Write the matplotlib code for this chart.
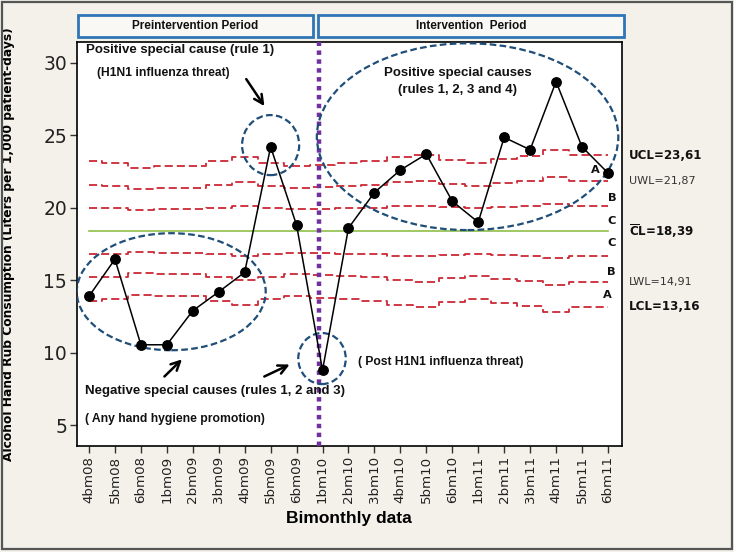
import matplotlib
matplotlib.use('Agg')
import matplotlib.pyplot as plt
import matplotlib.transforms as mtransforms
from matplotlib.patches import Ellipse, Rectangle
import numpy as np

# ---------------- data ----------------
periods = ['4bm08', '5bm08', '6bm08', '1bm09', '2bm09', '3bm09', '4bm09', '5bm09',
           '6bm09', '1bm10', '2bm10', '3bm10', '4bm10', '5bm10', '6bm10', '1bm11',
           '2bm11', '3bm11', '4bm11', '5bm11', '6bm11']
consumption = [13.9, 16.45, 10.55, 10.55, 12.9, 14.2, 15.55, 24.2, 18.8, 8.8,
               18.6, 21.05, 22.6, 23.7, 20.45, 19.0, 24.85, 24.0, 28.7, 24.2, 22.4]
center_line = 18.39
sigma = [1.60, 1.57, 1.46, 1.49, 1.49, 1.60, 1.70, 1.57, 1.49, 1.53, 1.56,
         1.60, 1.70, 1.74, 1.63, 1.56, 1.66, 1.72, 1.87, 1.74, 1.74]
sigma_multipliers = [3, 2, 1, -1, -2, -3]
limit_names = ['UCL=23,61', 'UWL=21,87', '$\\overline{\\mathbf{C}}$L=18,39', 'LWL=14,91', 'LCL=13,16']
limit_values = [23.61, 21.87, 18.39, 14.91, 13.16]
limit_bold = [True, False, True, False, True]
zone_letters = ['A', 'B', 'C', 'C', 'B', 'A']
yticks = [5, 10, 15, 20, 25, 30]

W, H = 734, 552
fig = plt.figure(figsize=(W / 100, H / 100), dpi=100)
fig.patch.set_facecolor('#f3f1ea')


def fx(px):
    return px / W


def fy(py):
    return 1 - py / H


ax_l, ax_r, ax_t, ax_b = 76.7, 621.7, 41.7, 446
ax = fig.add_axes([fx(ax_l), fy(ax_b), fx(ax_r - ax_l), (ax_b - ax_t) / H])
ax.set_facecolor('white')

x = np.arange(len(periods))
cons = np.array(consumption)
sig = np.array(sigma)

# control limits (stepped)
for k in sigma_multipliers:
    ax.step(x, center_line + k * sig, where='mid', color='#cc2936', lw=1.3,
            linestyle=(0, (4.5, 2.2)), zorder=2)
ax.plot([x[0], x[-1]], [center_line, center_line], color='#8fbf4a', lw=1.2, zorder=2)

# intervention divider
ax.axvline(8.88, color='#7030a0', lw=3.2, linestyle=(0, (1, 1)), zorder=3)

# data
ax.plot(x, cons, color='black', lw=1.1, marker='o', markersize=6.8,
        markerfacecolor='black', markeredgecolor='black', zorder=5)

# ellipses
ell_kw = dict(fill=False, edgecolor='#1f4e79', lw=1.6, linestyle=(0, (3, 1.5)), zorder=4)
ax.add_patch(Ellipse((3.17, 14.21), 7.28, 8.07, **ell_kw))
ax.add_patch(Ellipse((7.0, 24.32), 2.2, 4.14, **ell_kw))
ax.add_patch(Ellipse((8.98, 9.6), 1.83, 3.52, **ell_kw))
ax.add_patch(Ellipse((14.59, 24.9), 11.62, 12.88, **ell_kw))

# arrows
arw = dict(arrowstyle='->', lw=1.8, color='black', mutation_scale=16)
ax.annotate('', xy=(6.82, 26.85), xytext=(6.0, 29.03), arrowprops=arw, zorder=6)
ax.annotate('', xy=(3.66, 9.68), xytext=(2.83, 8.23), arrowprops=arw, zorder=6)
ax.annotate('', xy=(7.83, 9.27), xytext=(6.66, 8.28), arrowprops=arw, zorder=6)

# annotation texts
tk = dict(fontfamily=['Liberation Sans', 'DejaVu Sans'], fontweight='bold', color='#111111', zorder=7)
ax.text(-0.12, 30.88, 'Positive special cause (rule 1)', fontsize=9.5, ha='left', va='center', **tk)
ax.text(0.29, 29.31, '(H1N1 influenza threat)', fontsize=8.7, ha='left', va='center', **tk)
ax.text(14.21, 29.31, 'Positive special causes', fontsize=9.5, ha='center', va='center', **tk)
ax.text(14.21, 28.15, '(rules 1, 2, 3 and 4)', fontsize=9.5, ha='center', va='center', **tk)
ax.text(-0.15, 7.36, 'Negative special causes (rules 1, 2 and 3)', fontsize=9.5, ha='left', va='center', **tk)
ax.text(-0.15, 5.43, '( Any hand hygiene promotion)', fontsize=8.7, ha='left', va='center', **tk)
ax.text(10.35, 9.36, '( Post H1N1 influenza threat)', fontsize=8.7, ha='left', va='center', **tk)

# zone letters
zone_pos = [(19.5, 22.6), (20.15, 20.67), (20.15, 19.08), (20.15, 17.57), (20.12, 15.57), (19.96, 13.98)]
for (zx, zy), letter in zip(zone_pos, zone_letters):
    ax.text(zx, zy, letter, fontsize=8.2, fontweight='bold', ha='center', va='center',
            color='#111111', zorder=7)

# limit labels at right
trans = mtransforms.blended_transform_factory(ax.transAxes, ax.transData)
for name, val, bold in zip(limit_names, limit_values, limit_bold):
    ax.text(1.013, val, name, transform=trans, fontsize=8.6 if bold else 8.0,
            fontweight='bold' if bold else 'normal', ha='left', va='center',
            color='#111111' if bold else '#333333', clip_on=False)

# axes styling
ax.set_xlim(-0.474, 20.53)
ax.set_ylim(3.57, 31.45)
ax.set_xticks(x)
ax.set_xticklabels(periods, rotation=90, fontsize=9.6, color='#222222')
ax.set_yticks(yticks)
ax.set_yticklabels([str(v) for v in yticks], fontsize=13.5, color='#222222')
ax.tick_params(axis='both', direction='out', length=5, width=1, color='#333333', pad=2)
for s in ax.spines.values():
    s.set_linewidth(1.2)
    s.set_color('black')

ax.set_xlabel('Bimonthly data', fontsize=12.5, fontweight='bold',
              fontfamily=['Liberation Sans Narrow', 'Liberation Sans', 'DejaVu Sans'], labelpad=6)
ax.set_ylabel('Alcohol Hand Rub Consumption (Liters per 1,000 patient-days)', fontsize=8.8,
              fontweight='bold')
ax.yaxis.set_label_coords((15 - ax_l) / (ax_r - ax_l), 0.5)

# header boxes
boxes = [(77.6, 313, 'Preintervention Period'), (317.6, 624, 'Intervention  Period')]
for x0, x1, label in boxes:
    fig.add_artist(Rectangle((fx(x0), fy(36.7)), fx(x1 - x0), 21.7 / H, transform=fig.transFigure,
                             facecolor='#f9f8f4', edgecolor='#2e75b6', lw=2))
    fig.text(fx((x0 + x1) / 2), fy(26), label, ha='center', va='center', fontsize=8.5,
             fontweight='bold', color='#111111',
             fontfamily=['Liberation Sans Narrow', 'Liberation Sans', 'DejaVu Sans'])

# figure border
fig.add_artist(Rectangle((0.003, 0.006), 0.994, 0.99, transform=fig.transFigure, fill=False,
                         edgecolor='#555555', lw=1.6))

fig.savefig('out.png', dpi=100, facecolor=fig.get_facecolor())
